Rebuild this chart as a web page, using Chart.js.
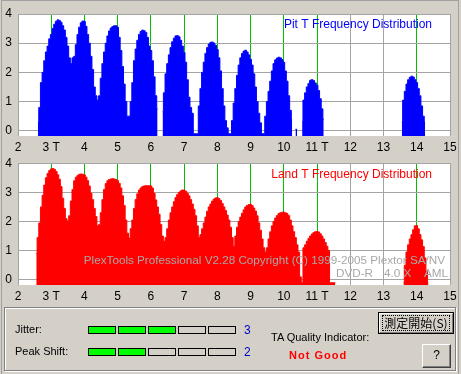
<!DOCTYPE html>
<html>
<head>
<meta charset="utf-8">
<script src="https://cdn.jsdelivr.net/npm/chart.js@4.4.1/dist/chart.umd.min.js"></script>
<style>
  html, body { margin: 0; padding: 0; }
  body { width: 461px; height: 374px; background: #d4d0c8; position: relative; overflow: hidden;
         font-family: "Liberation Sans", Arial, sans-serif; }
  .abs { position: absolute; }
  #frame { left: 1px; top: 0; width: 456px; height: 380px; border: 1px solid #a0a0a0; }
  #pitCanvas { left: 0; top: 0; }
  #landCanvas { left: 0; top: 150px; }
  #group { left: 4px; top: 307px; width: 450px; height: 62px; border: 1px solid #808080;
           box-shadow: inset 1px 1px 0 #fff, 1px 1px 0 #fff; }
  .lbl { font-size: 11px; line-height: 13px; color: #000; white-space: nowrap; }
  .num { font-size: 12px; line-height: 14px; color: #0000cc; }
  .box { width: 28px; height: 8px; box-sizing: border-box; border: 1px solid #000; }
  #verdict { font-size: 11px; font-weight: bold; letter-spacing: 1px; color: #ff0000; line-height: 14px; }
  #btnStart { left: 378px; top: 312px; width: 76px; height: 22px; box-sizing: border-box; border: 1px solid #000; }
  #btnStart .bevel { position: absolute; left: 0; top: 0; right: 0; bottom: 0;
                     border-top: 1px solid #fff; border-left: 1px solid #fff;
                     border-right: 1px solid #808080; border-bottom: 1px solid #808080; }
  #btnStart .focus { position: absolute; left: 3px; top: 2px; right: 3px; bottom: 2px; border: 1px dotted #000; }
  #btnStart .cap { position: absolute; left: 0; right: 0; top: 2px; text-align: center;
                   font-family: "Noto Sans CJK JP", sans-serif; font-size: 12px; line-height: 16px; }
  #btnHelp { left: 422px; top: 344px; width: 29px; height: 24px; box-sizing: border-box;
             border-top: 1px solid #fff; border-left: 1px solid #fff;
             border-right: 1px solid #404040; border-bottom: 1px solid #404040;
             box-shadow: inset -1px -1px 0 #808080; text-align: center; font-size: 12px; line-height: 21px; }
</style>
</head>
<body>
<div id="frame" class="abs"></div>
<canvas id="pitCanvas" class="abs" width="461" height="160"></canvas>
<canvas id="landCanvas" class="abs" width="461" height="155"></canvas>

<div id="group" class="abs"></div>
<div class="abs lbl" style="left:15px; top:323px;">Jitter:</div>
<div class="abs lbl" style="left:15px; top:345px;">Peak Shift:</div>
<div id="jitterBoxes"></div>
<div id="shiftBoxes"></div>
<div id="jitterNum" class="abs num" style="left:244px; top:323px;"></div>
<div id="shiftNum" class="abs num" style="left:244px; top:345px;"></div>
<div class="abs lbl" style="left:271px; top:331px;">TA Quality Indicator:</div>
<div id="verdict" class="abs" style="left:289px; top:348px;">Not Good</div>
<div id="btnStart" class="abs"><div class="bevel"></div><div class="focus"></div><div class="cap">測定開始(S)</div></div>
<div id="btnHelp" class="abs">?</div>

<script>
// bin width of the T histogram
var STEP = 0.05;

var tickValues = [2, 3, 4, 5, 6, 7, 8, 9, 10, 11, 12, 13, 14, 15];
var tickLabels = ["2", "3 T", "4", "5", "6", "7", "8", "9", "10", "11 T", "12", "13", "14", "15"];
var greenTicks = [3, 4, 5, 6, 7, 8, 9, 10, 11, 14];
var yTicks = [0, 1, 2, 3, 4];

// Pit T histogram, one run per peak (first bin T value in pitStarts)
var pit3 = [0.3, 0.8, 1.65, 2.0, 2.4, 2.7, 2.9, 3.15, 3.3, 3.5, 3.65, 3.75, 3.8, 3.78, 3.72, 3.6, 3.45, 3.2, 2.9, 2.5, 2.3];
var pit4 = [2.5, 2.55, 2.95, 3.3, 3.55, 3.7, 3.76, 3.75, 3.58, 3.3, 3.0, 2.55, 2.1, 1.5, 1.2, 1.05];
var pit5 = [1.2, 1.8, 2.3, 2.7, 3.0, 3.25, 3.42, 3.52, 3.57, 3.6, 3.6, 3.55, 3.2, 2.75, 2.2, 1.6, 1.0, 0.5];
var pit6 = [0.5, 1.0, 1.65, 2.4, 2.8, 3.1, 3.3, 3.4, 3.45, 3.43, 3.37, 3.2, 2.9, 2.75, 2.4, 1.85, 1.2, 0.75];
var pit7 = [0.65, 1.3, 1.95, 2.3, 2.6, 2.85, 3.05, 3.17, 3.25, 3.26, 3.22, 3.1, 2.9, 2.68, 2.35, 1.75, 1.15, 0.8, 0.6, -0.1, -0.1, -0.1];
var pit8 = [0.85, 1.45, 2.0, 2.35, 2.65, 2.85, 2.97, 3.03, 3.04, 3.0, 2.93, 2.78, 2.5, 2.05, 1.45, 0.85, 0.35, 0.1, -0.1, -0.1];
var pit9 = [0.35, 0.95, 1.45, 1.9, 2.25, 2.5, 2.65, 2.73, 2.76, 2.7, 2.6, 2.45, 2.25, 1.95, 1.5, 1.0, 0.6, 0.27, -0.1, -0.1];
var pit10 = [0.5, 1.0, 1.35, 1.7, 2.05, 2.3, 2.43, 2.49, 2.52, 2.5, 2.44, 2.35, 2.05, 1.7, 1.2, 0.7, 0.38];
var pitBlip = [0.05, 0.05];
var pit11 = [0.3, 1.05, 1.3, 1.5, 1.62, 1.73, 1.75, 1.72, 1.64, 1.56, 1.38, 1.1, 0.75, 0.4];
var pit14 = [0.3, 1.05, 1.35, 1.6, 1.75, 1.83, 1.87, 1.84, 1.75, 1.65, 1.45, 1.2, 0.85, 0.5, 0.3];
var pitStarts = [2.60, 3.65, 4.45, 5.35, 6.35, 7.45, 8.45, 9.45, 10.35, 10.55, 13.55];
var pitRuns = [pit3, pit4, pit5, pit6, pit7, pit8, pit9, pit10, pitBlip, pit11, pit14];

// Land T histogram
var land3 = [0.9, 1.45, 1.95, 2.5, 2.9, 3.25, 3.5, 3.65, 3.75, 3.8, 3.82, 3.79, 3.72, 3.6, 3.45, 3.2, 2.8, 2.45, 2.1, 2.02];
var land4 = [2.2, 2.7, 3.1, 3.4, 3.52, 3.58, 3.62, 3.63, 3.62, 3.6, 3.52, 3.4, 3.22, 2.97, 2.75, 2.45, 2.17, 1.85];
var land5 = [1.9, 2.3, 2.75, 3.1, 3.3, 3.4, 3.44, 3.46, 3.47, 3.46, 3.44, 3.4, 3.31, 3.15, 2.88, 2.55, 2.05, 1.6, 1.43];
var land6 = [1.75, 2.05, 2.45, 2.75, 2.95, 3.08, 3.15, 3.2, 3.22, 3.23, 3.23, 3.23, 3.22, 3.15, 2.97, 2.74, 2.5, 2.25, 1.9, 1.5, 1.32];
var land7 = [1.45, 1.75, 2.05, 2.3, 2.5, 2.68, 2.82, 2.93, 3.0, 3.05, 3.08, 3.08, 3.04, 2.97, 2.88, 2.75, 2.6, 2.42, 2.2, 1.85, 1.45];
var land8 = [1.55, 1.75, 1.95, 2.15, 2.35, 2.5, 2.6, 2.7, 2.77, 2.81, 2.82, 2.79, 2.72, 2.62, 2.5, 2.38, 2.22, 2.05, 1.8, 1.45, 1.15];
var land9 = [1.5, 1.8, 2.0, 2.15, 2.28, 2.4, 2.5, 2.55, 2.58, 2.59, 2.55, 2.46, 2.36, 2.2, 1.95, 1.7, 1.4, 1.1, 0.95];
var land10 = [1.1, 1.4, 1.65, 1.85, 2.0, 2.12, 2.2, 2.27, 2.3, 2.32, 2.32, 2.3, 2.27, 2.2, 2.05, 1.85, 1.65, 1.45, 1.2, 0.95, 0.1];
var land11 = [-0.1, 1.1, 1.2, 1.32, 1.42, 1.5, 1.57, 1.62, 1.65, 1.66, 1.64, 1.58, 1.5, 1.4, 1.28, 1.15, 1.0, -0.1, -0.1, -0.1, -0.1];
var land14 = [-0.1, 0.5, 0.95, 1.2, 1.4, 1.55, 1.72, 1.85, 1.86, 1.75, 1.55, 1.37, 1.14, 0.75, 0.3, -0.1];
var landStarts = [2.55, 3.55, 4.45, 5.40, 6.45, 7.50, 8.55, 9.50, 10.55, 13.60];
var landRuns = [land3, land4, land5, land6, land7, land8, land9, land10, land11, land14];

var jitterLevel = 3;
var peakShiftLevel = 2;
var levelCount = 5;

var GRID_GRAY = "#a4a4a4";
var GRID_GREEN = "#00c000";

function buildPoints(starts, runs) {
  var pts = [];
  runs.forEach(function (run, k) {
    var x0 = starts[k];
    if (pts.length) {
      var lastX = pts[pts.length - 1].x;
      if (x0 - lastX > STEP * 1.5) pts.push({ x: +(lastX + STEP).toFixed(2), y: null });
    }
    run.forEach(function (v, i) {
      pts.push({ x: +(x0 + i * STEP).toFixed(2), y: v });
    });
  });
  return pts;
}

var plotBg = {
  id: "plotBg",
  beforeDraw: function (chart) {
    var a = chart.chartArea, ctx = chart.ctx;
    ctx.save();
    ctx.fillStyle = "#ffffff";
    ctx.fillRect(a.left, a.top, a.right - a.left + 1, a.bottom - a.top);
    ctx.restore();
  },
};

var captions = {
  id: "captions",
  afterDatasetsDraw: function (chart, args, opts) {
    var ctx = chart.ctx, a = chart.chartArea;
    ctx.save();
    ctx.font = '12px "Liberation Sans", Arial, sans-serif';
    ctx.textAlign = "right";
    ctx.textBaseline = "middle";
    ctx.fillStyle = opts.color;
    ctx.fillText(opts.title, 432, a.top + 11);
    if (opts.mark) {
      ctx.fillStyle = "#a8a8a8";
      ctx.font = '11.7px "Liberation Sans", Arial, sans-serif';
      ctx.fillText(opts.mark[0], 445, a.top + 98);
      ctx.textAlign = "left";
      ctx.fillText(opts.mark[1], 336, a.top + 111);
      ctx.fillText(opts.mark[2], 384, a.top + 111);
      ctx.fillText(opts.mark[3], 424, a.top + 111);
    }
    ctx.restore();
  },
};

function makeChart(id, starts, runs, color, title, axisHeight, padTop, mark) {
  return new Chart(document.getElementById(id), {
    type: "line",
    data: {
      datasets: [
        {
          data: buildPoints(starts, runs),
          stepped: "middle",
          fill: "start",
          backgroundColor: color,
          borderColor: color,
          borderWidth: 1,
          pointRadius: 0,
          spanGaps: false,
        },
      ],
    },
    options: {
      responsive: false,
      animation: false,
      events: [],
      layout: { padding: { top: padTop, right: 11, left: 0, bottom: 0 } },
      plugins: {
        legend: { display: false },
        tooltip: { enabled: false },
        captions: { title: title, color: color, mark: mark },
      },
      scales: {
        x: {
          type: "linear",
          min: 2,
          max: 15,
          afterBuildTicks: function (s) {
            s.ticks = tickValues.map(function (v) { return { value: v }; });
          },
          afterFit: function (s) { s.height = axisHeight; },
          ticks: {
            autoSkip: false,
            maxRotation: 0,
            padding: 4,
            color: "#000",
            callback: function (v) { return tickLabels[tickValues.indexOf(v)]; },
          },
          grid: {
            drawTicks: false,
            color: function (c) {
              return greenTicks.indexOf(c.tick && c.tick.value) >= 0 ? GRID_GREEN : GRID_GRAY;
            },
          },
          border: { display: false },
        },
        y: {
          min: -0.18,
          max: 4,
          afterBuildTicks: function (s) {
            s.ticks = yTicks.map(function (v) { return { value: v }; });
          },
          afterFit: function (s) { s.width = 18; },
          ticks: { padding: 6, color: "#000" },
          grid: { drawTicks: false, color: GRID_GRAY },
          border: { display: false },
        },
      },
    },
    plugins: [plotBg, captions],
  });
}

function drawLevels(containerId, level, top) {
  var el = document.getElementById(containerId);
  for (var i = 0; i < levelCount; i++) {
    var b = document.createElement("div");
    b.className = "abs box";
    b.style.left = 88 + i * 30 + "px";
    b.style.top = top + "px";
    b.style.background = i < level ? "#00ff00" : "transparent";
    el.appendChild(b);
  }
}

function init() {
  Chart.defaults.font.family = '"Liberation Sans", Arial, sans-serif';
  Chart.defaults.font.size = 12;
  makeChart("pitCanvas", pitStarts, pitRuns, "#0000ff", "Pit T Frequency Distribution", 24, 14, null);
  makeChart("landCanvas", landStarts, landRuns, "#ff0000", "Land T Frequency Distribution", 20, 13, [
    "PlexTools Professional V2.28 Copyright (C) 1999-2005 Plextor SA/NV",
    "DVD-R",
    "4.0 X",
    "AML",
  ]);
  drawLevels("jitterBoxes", jitterLevel, 326);
  drawLevels("shiftBoxes", peakShiftLevel, 348);
  document.getElementById("jitterNum").textContent = jitterLevel;
  document.getElementById("shiftNum").textContent = peakShiftLevel;
}

if (document.readyState === "loading") {
  document.addEventListener("DOMContentLoaded", init);
} else {
  init();
}
</script>
</body>
</html>
